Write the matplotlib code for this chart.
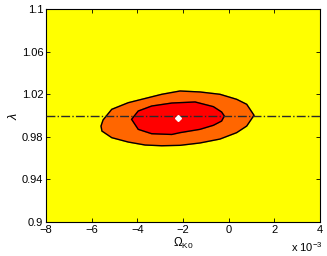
import numpy as np
import matplotlib
matplotlib.use('Agg')
import matplotlib.pyplot as plt

plt.rcParams['font.family'] = ['Liberation Sans', 'DejaVu Sans']
plt.rcParams['mathtext.fontset'] = 'custom'
plt.rcParams['mathtext.rm'] = 'Liberation Sans'
plt.rcParams['mathtext.it'] = 'Liberation Sans:italic'

# contour vertices (Omega_K0 in units of 1e-3, lambda)
outer_x = [-5.59, -5.50, -5.12, -4.40, -2.93, -2.13, -1.26, -0.38, 0.35, 0.79, 1.11,
           0.79, 0.35, -0.38, -1.26, -2.13, -2.93, -3.66, -4.40, -5.12, -5.55]
outer_y = [0.9901, 0.9958, 1.0058, 1.0120, 1.0199, 1.0230, 1.0221, 1.0199, 1.0152, 1.0105, 1.0002,
           0.9901, 0.9839, 0.9779, 0.9742, 0.9720, 0.9716, 0.9723, 0.9751, 0.9792, 0.9854]

inner_x = [-4.25, -3.96, -3.37, -2.49, -1.47, -0.67, -0.31, -0.19, -0.31, -0.67,
           -1.26, -2.13, -2.49, -3.37, -3.96]
inner_y = [0.9964, 1.0042, 1.0089, 1.0117, 1.0127, 1.0083, 1.0033, 0.9995, 0.9948, 0.9908,
           0.9870, 0.9839, 0.9822, 0.9829, 0.9870]

best_x = [-2.21]
best_y = [0.9974]

ref_lambda = 1.0

xticks = [-8, -6, -4, -2, 0, 2, 4]
yticks = [0.9, 0.94, 0.98, 1.02, 1.06, 1.1]
ytick_labels = ['0.9', '0.94', '0.98', '1.02', '1.06', '1.1']

fig = plt.figure(figsize=(3.27, 2.56), dpi=100)
ax = fig.add_axes([46 / 327, 34 / 256, 274 / 327, 213 / 256])
ax.set_facecolor('#ffff00')

ax.fill(outer_x, outer_y, color='#ff6600', zorder=1)
ax.fill(outer_x, outer_y, facecolor='none', edgecolor='black', lw=1, zorder=2)
ax.fill(inner_x, inner_y, color='#ff0000', zorder=3)
ax.fill(inner_x, inner_y, facecolor='none', edgecolor='black', lw=1, zorder=4)

ax.axhline(ref_lambda, color='#2a2a2a', ls='-.', lw=1, zorder=5)
ax.plot(best_x, best_y, 'D', color='white', markersize=3, zorder=6)

ax.set_xlim(-8, 4)
ax.set_ylim(0.9, 1.1)
ax.set_xticks(xticks)
ax.set_xticklabels([str(t).replace('-', '\u2212') for t in xticks])
ax.set_yticks(yticks)
ax.set_yticklabels(ytick_labels)
ax.tick_params(direction='in', length=3, width=0.6, top=True, right=True,
               labelsize=8, pad=2)
for s in ax.spines.values():
    s.set_linewidth(0.8)

ax.set_xlabel(r'$\Omega_{\mathrm{K0}}$', fontsize=8.5, labelpad=1)
ax.set_ylabel(r'$\lambda$', fontsize=9, labelpad=1)
fig.text(291 / 327, 2 / 256, r'x 10$^{-3}$', fontsize=8, ha='left', va='bottom')

fig.savefig('out.png', dpi=100)
